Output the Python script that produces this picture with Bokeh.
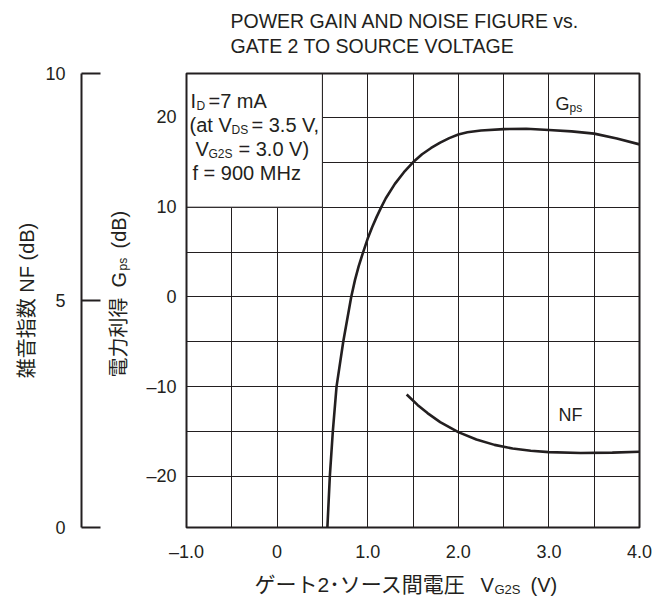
import math
from bokeh.plotting import figure
from bokeh.models import Range1d, LinearAxis, FixedTicker, Label, Grid
from bokeh.embed import file_html
from bokeh.resources import INLINE

# ---------------- data ----------------
gps_vg2s = [0.555, 0.582, 0.615, 0.656, 0.730, 0.818, 0.86, 0.9, 0.95, 1.0, 1.05, 1.1, 1.15, 1.2,
            1.3, 1.4, 1.5, 1.6, 1.7, 1.8, 1.9, 2.0, 2.1, 2.25, 2.5, 2.75, 3.0, 3.25,
            3.5, 3.75, 4.0]
gps_db = [-27.0, -20.0, -15.0, -10.0, -5.0, 0.0, 1.9, 3.4, 5.0, 6.5, 7.8, 8.95, 10.0, 11.0,
          12.6, 13.9, 15.0, 15.9, 16.6, 17.2, 17.7, 18.1, 18.35, 18.55, 18.7, 18.75, 18.6, 18.45,
          18.2, 17.65, 17.0]

nf_vg2s = [1.43, 1.55, 1.66, 1.8, 2.0, 2.2, 2.4, 2.6, 2.8, 3.0, 3.35, 3.7, 4.0]
nf_db = [2.93, 2.70, 2.52, 2.32, 2.10, 1.94, 1.82, 1.74, 1.69, 1.66, 1.64, 1.65, 1.67]

v_range = (-1.0, 4.0)
gps_range = (-25.7, 24.9)
nf_range = (0.0, 10.0)

x_ticks = [-1, 0, 1, 2, 3, 4]
x_tick_labels = ["–1.0", "0", "1.0", "2.0", "3.0", "4.0"]
gps_ticks = [-20, -10, 0, 10, 20]
gps_tick_labels = ["–20", "–10", "0", "10", "20"]
nf_ticks = [0, 5, 10]
nf_tick_labels = ["0", "5", "10"]
x_grid = [-0.5, 0.0, 0.5, 1.0, 1.5, 2.0, 2.5, 3.0, 3.5]
y_grid = [-20, -15, -10, -5, 0, 5, 10, 15, 20]

title_lines = ["POWER GAIN AND NOISE FIGURE vs.", "GATE 2 TO SOURCE VOLTAGE"]
cond_box_v = (-1.0, 0.5)
cond_box_db = (10.0, 24.9)

# ---------------- layout (page pixels) ----------------
INK = "#231f20"
LAT = "Liberation Sans"
MIX = "Liberation Sans, Noto Sans CJK JP"

W, H = 655, 600          # canvas
OX, OY = 0, 0            # canvas origin on the page
FL, FR, FT, FB = 186, 639, 73, 527   # plotting frame on the page
NF_AXIS_X = 81

px_per_v = (FR - FL) / (v_range[1] - v_range[0])
px_per_db = (FB - FT) / (gps_range[1] - gps_range[0])
x_lo = v_range[0] - (FL - OX) / px_per_v
x_hi = v_range[1] + (OX + W - FR) / px_per_v
y_hi = gps_range[1] + (FT - OY) / px_per_db
y_lo = gps_range[0] - (OY + H - FB) / px_per_db
nf_per_db = (nf_range[1] - nf_range[0]) / (gps_range[1] - gps_range[0])
nf_lo = nf_range[0] + (y_lo - gps_range[0]) * nf_per_db
nf_hi = nf_range[0] + (y_hi - gps_range[0]) * nf_per_db
nf_axis_loc = v_range[0] - (FL - NF_AXIS_X) / px_per_v

p = figure(width=W, height=H,
           x_range=Range1d(x_lo, x_hi), y_range=Range1d(y_lo, y_hi),
           output_backend="svg", toolbar_location=None,
           min_border=0, min_border_left=0, min_border_right=0,
           min_border_top=0, min_border_bottom=0,
           background_fill_color="white", border_fill_color="white")
p.title.text = ""
p.title.visible = False
p.extra_y_ranges = {"nf": Range1d(nf_lo, nf_hi)}
p.outline_line_color = None

# grids limited to the frame
has_cross = "cross_bounds" in Grid.properties()
if has_cross:
    p.xgrid.ticker = FixedTicker(ticks=x_grid)
    p.ygrid.ticker = FixedTicker(ticks=y_grid)
    p.xgrid.bounds = v_range
    p.ygrid.bounds = gps_range
    p.xgrid.cross_bounds = gps_range
    p.ygrid.cross_bounds = v_range
    for g in (p.xgrid[0], p.ygrid[0]):
        g.grid_line_color = INK
        g.grid_line_width = 1
        g.grid_line_alpha = 1.0
else:
    p.xgrid.visible = False
    p.ygrid.visible = False
    p.segment(x0=x_grid, y0=[gps_range[0]] * len(x_grid), x1=x_grid, y1=[gps_range[1]] * len(x_grid),
              line_color=INK, line_width=1)
    p.segment(x0=[v_range[0]] * len(y_grid), y0=y_grid, x1=[v_range[1]] * len(y_grid), y1=y_grid,
              line_color=INK, line_width=1)

# x axis (at the frame bottom)
xa = p.xaxis[0]
xa.fixed_location = gps_range[0]
xa.bounds = v_range
xa.ticker = FixedTicker(ticks=x_ticks)
xa.major_label_overrides = dict(zip(x_ticks, x_tick_labels))
xa.axis_line_color = None
xa.major_tick_line_color = None
xa.minor_tick_line_color = None
xa.major_tick_out = 0
xa.major_tick_in = 0
xa.major_label_standoff = 14
xa.major_label_text_font = LAT
xa.major_label_text_font_size = "18px"
xa.major_label_text_color = INK

# gain axis (at the frame left)
ya = p.yaxis[0]
ya.fixed_location = v_range[0]
ya.bounds = gps_range
ya.ticker = FixedTicker(ticks=gps_ticks)
ya.major_label_overrides = dict(zip(gps_ticks, gps_tick_labels))
ya.axis_line_color = None
ya.major_tick_line_color = None
ya.minor_tick_line_color = None
ya.major_tick_out = 0
ya.major_tick_in = 0
ya.major_label_standoff = 10
ya.major_label_text_font = LAT
ya.major_label_text_font_size = "18px"
ya.major_label_text_color = INK

# NF axis (outer left)
na = LinearAxis(y_range_name="nf", ticker=FixedTicker(ticks=nf_ticks),
                fixed_location=nf_axis_loc, bounds=nf_range)
na.major_label_overrides = dict(zip(nf_ticks, nf_tick_labels))
na.axis_line_color = INK
na.axis_line_width = 2
na.major_tick_line_color = INK
na.major_tick_line_width = 2
na.major_tick_in = 19
na.major_tick_out = 0
na.minor_tick_line_color = None
na.major_label_standoff = 16
na.major_label_text_font = LAT
na.major_label_text_font_size = "18px"
na.major_label_text_color = INK
na.axis_label = "雑音指数 NF (dB)"
na.axis_label_text_font = MIX
na.axis_label_text_font_size = "20px"
na.axis_label_text_font_style = "normal"
na.axis_label_text_color = INK
na.axis_label_standoff = 4
p.add_layout(na, "left")

# condition box (white, hides grid)
p.quad(left=[cond_box_v[0]], right=[cond_box_v[1]], bottom=[cond_box_db[0]], top=[cond_box_db[1]],
       fill_color="white", line_color=INK, line_width=1)

# frame
p.quad(left=[v_range[0]], right=[v_range[1]], bottom=[gps_range[0]], top=[gps_range[1]],
       fill_color=None, line_color=INK, line_width=2)

# curves (Gps starts just below the frame bottom)
p.line(gps_vg2s, [max(v, gps_range[0]) for v in gps_db], line_color=INK, line_width=2.6)
p.line(nf_vg2s, nf_db, y_range_name="nf", line_color=INK, line_width=2.6)


# ---------------- text helpers (page-pixel centres) ----------------
def put(px, py, text, size, font=LAT, angle=0.0, align="left", baseline="middle"):
    p.add_layout(Label(x=px - OX, y=H - (py - OY), x_units="screen", y_units="screen",
                       text=text, text_font=font, text_font_size=f"{size}px",
                       text_color=INK, angle=angle, text_align=align,
                       text_baseline=baseline))

# title
put(230, 20, title_lines[0], 19.5)
put(230, 45, title_lines[1], 19.5)

# conditions
put(190, 100, "I", 20); put(196, 105, "D", 12); put(208, 100, "=7 mA", 20)
put(189, 124, "(at V", 20); put(231, 129, "DS", 12); put(251, 124, "= 3.5 V,", 20)
put(195, 148, "V", 20); put(208, 153, "G2S", 12); put(238, 148, "= 3.0 V)", 20)
put(192, 172, "f = 900 MHz", 20)

# curve labels
put(555, 103, "G", 18); put(569, 107, "ps", 12)
put(558, 414, "NF", 18)

# x-axis title
put(254, 584, "ゲート2･ソース間電圧", 21, font=MIX)
put(480, 584, "V", 20); put(494, 589, "G2S", 13); put(530, 584, "(V)", 20)

# gain axis title (rotated)
R = math.pi / 2
put(118, 377, "電力利得", 20, font=MIX, angle=R)
put(118, 287, "G", 20, angle=R)
put(122, 270, "ps", 12, angle=R)
put(118, 248, "(dB)", 20, angle=R)

open("out.html", "w").write(file_html(p, INLINE))
